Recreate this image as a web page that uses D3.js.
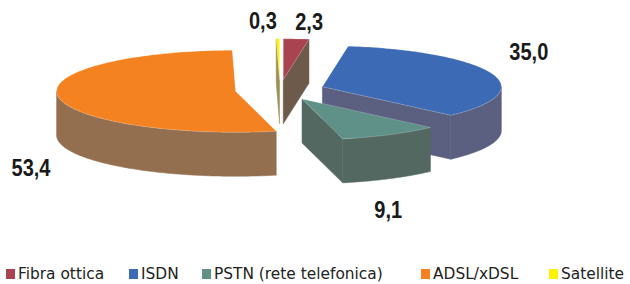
<!DOCTYPE html>
<html>
<head>
<meta charset="utf-8">
<script src="https://cdn.jsdelivr.net/npm/d3@7"></script>
<style>
  body { margin: 0; background: #fff; }
  svg { display: block; }
</style>
</head>
<body>
<div id="chart"></div>
<script>
// dati
var categories = ["Fibra ottica", "ISDN", "PSTN (rete telefonica)", "ADSL/xDSL", "Satellite"];
var values = [2.3, 35.0, 9.1, 53.4, 0.3];
var valueLabels = ["2,3", "35,0", "9,1", "53,4", "0,3"];

var topColors = ["#a8434f", "#3d6ab4", "#5f9189", "#f58220", "#fff200"];
var sideColors = ["#6e5a4b", "#5b5f80", "#546862", "#936f4f", "#9a9155"];

var width = 630, height = 284;
var cx = 280, cy = 90;     // centro della torta
var rx = 179, ry = 41;     // ellisse
var depth = 44;            // spessore
var explode = 0.25;        // esplosione (frazione del raggio)

// posizione delle etichette rispetto al bordo della fetta
var labelNudge = [[13, -9], [37, -13], [-2, 83], [-27, 80], [-15, -10]];
// legenda
var legendX = [6, 129, 202, 421, 549];
var legendY = 268;

var svg = d3.select("#chart").append("svg")
  .attr("width", width)
  .attr("height", height);

var arcs = d3.pie().sort(null).value(function(d) { return d; })(values);

function pt(o, a, r, dz) {
  return [o[0] + r * rx * Math.sin(a), o[1] - r * ry * Math.cos(a) + (dz || 0)];
}

var line = d3.line();

arcs.forEach(function(d, i) {
  var mid = (d.startAngle + d.endAngle) / 2;
  d.index = i;
  d.mid = mid;
  d.o = [cx + explode * rx * Math.sin(mid), cy - explode * ry * Math.cos(mid)];
});

// dal fondo verso il davanti
var order = arcs.slice().sort(function(a, b) { return a.o[1] - b.o[1]; });

function arcPts(o, a0, a1, dz) {
  var n = Math.max(2, Math.ceil((a1 - a0) / 0.02));
  return d3.range(n + 1).map(function(k) { return pt(o, a0 + (a1 - a0) * k / n, 1, dz); });
}

var g = svg.append("g");

order.forEach(function(d) {
  var i = d.index, o = d.o, a0 = d.startAngle, a1 = d.endAngle;
  var sg = g.append("g");

  // facce radiali visibili
  function radial(a) {
    var r0 = o, r1 = pt(o, a, 1);
    sg.append("path")
      .attr("d", line([r0, r1, [r1[0], r1[1] + depth], [r0[0], r0[1] + depth]]) + "Z")
      .attr("fill", sideColors[i])
      .attr("stroke", sideColors[i])
      .attr("stroke-width", 0.5);
  }
  if (a0 > Math.PI && a0 < 2 * Math.PI) radial(a0);
  if (a1 > 0 && a1 < Math.PI) radial(a1);

  // parete esterna (solo la parte frontale)
  var f0 = Math.max(a0, Math.PI / 2), f1 = Math.min(a1, 3 * Math.PI / 2);
  if (f1 > f0) {
    var topEdge = arcPts(o, f0, f1, 0);
    var botEdge = arcPts(o, f0, f1, depth).reverse();
    sg.append("path")
      .attr("d", line(topEdge.concat(botEdge)) + "Z")
      .attr("fill", sideColors[i])
      .attr("stroke", sideColors[i])
      .attr("stroke-width", 0.5);
  }

  // faccia superiore
  sg.append("path")
    .attr("d", line([o].concat(arcPts(o, a0, a1, 0))) + "Z")
    .attr("fill", topColors[i])
    .attr("stroke", "rgba(255,255,255,0.35)")
    .attr("stroke-width", 0.6);
});

// etichette
arcs.forEach(function(d, i) {
  var p = pt(d.o, d.mid, 1);
  svg.append("text")
    .attr("transform", "translate(" + (p[0] + labelNudge[i][0]) + "," + (p[1] + labelNudge[i][1]) + ") scale(0.87,1)")
    .attr("text-anchor", "middle")
    .attr("font-family", "'Liberation Sans', Arial, sans-serif")
    .attr("font-weight", "bold")
    .attr("font-size", 23)
    .attr("fill", "#1a1a1a")
    .text(valueLabels[i]);
});

// legenda
var leg = svg.append("g").selectAll("g")
  .data(categories)
  .enter().append("g")
  .attr("transform", function(d, i) { return "translate(" + legendX[i] + "," + legendY + ")"; });

leg.append("rect")
  .attr("y", 1)
  .attr("width", 9)
  .attr("height", 10)
  .attr("fill", function(d, i) { return topColors[i]; });

leg.append("text")
  .attr("x", 12)
  .attr("y", 11)
  .attr("font-family", "'DejaVu Sans', sans-serif")
  .attr("font-size", 15.4)
  .attr("fill", "#222")
  .text(function(d) { return d; });
</script>
</body>
</html>
